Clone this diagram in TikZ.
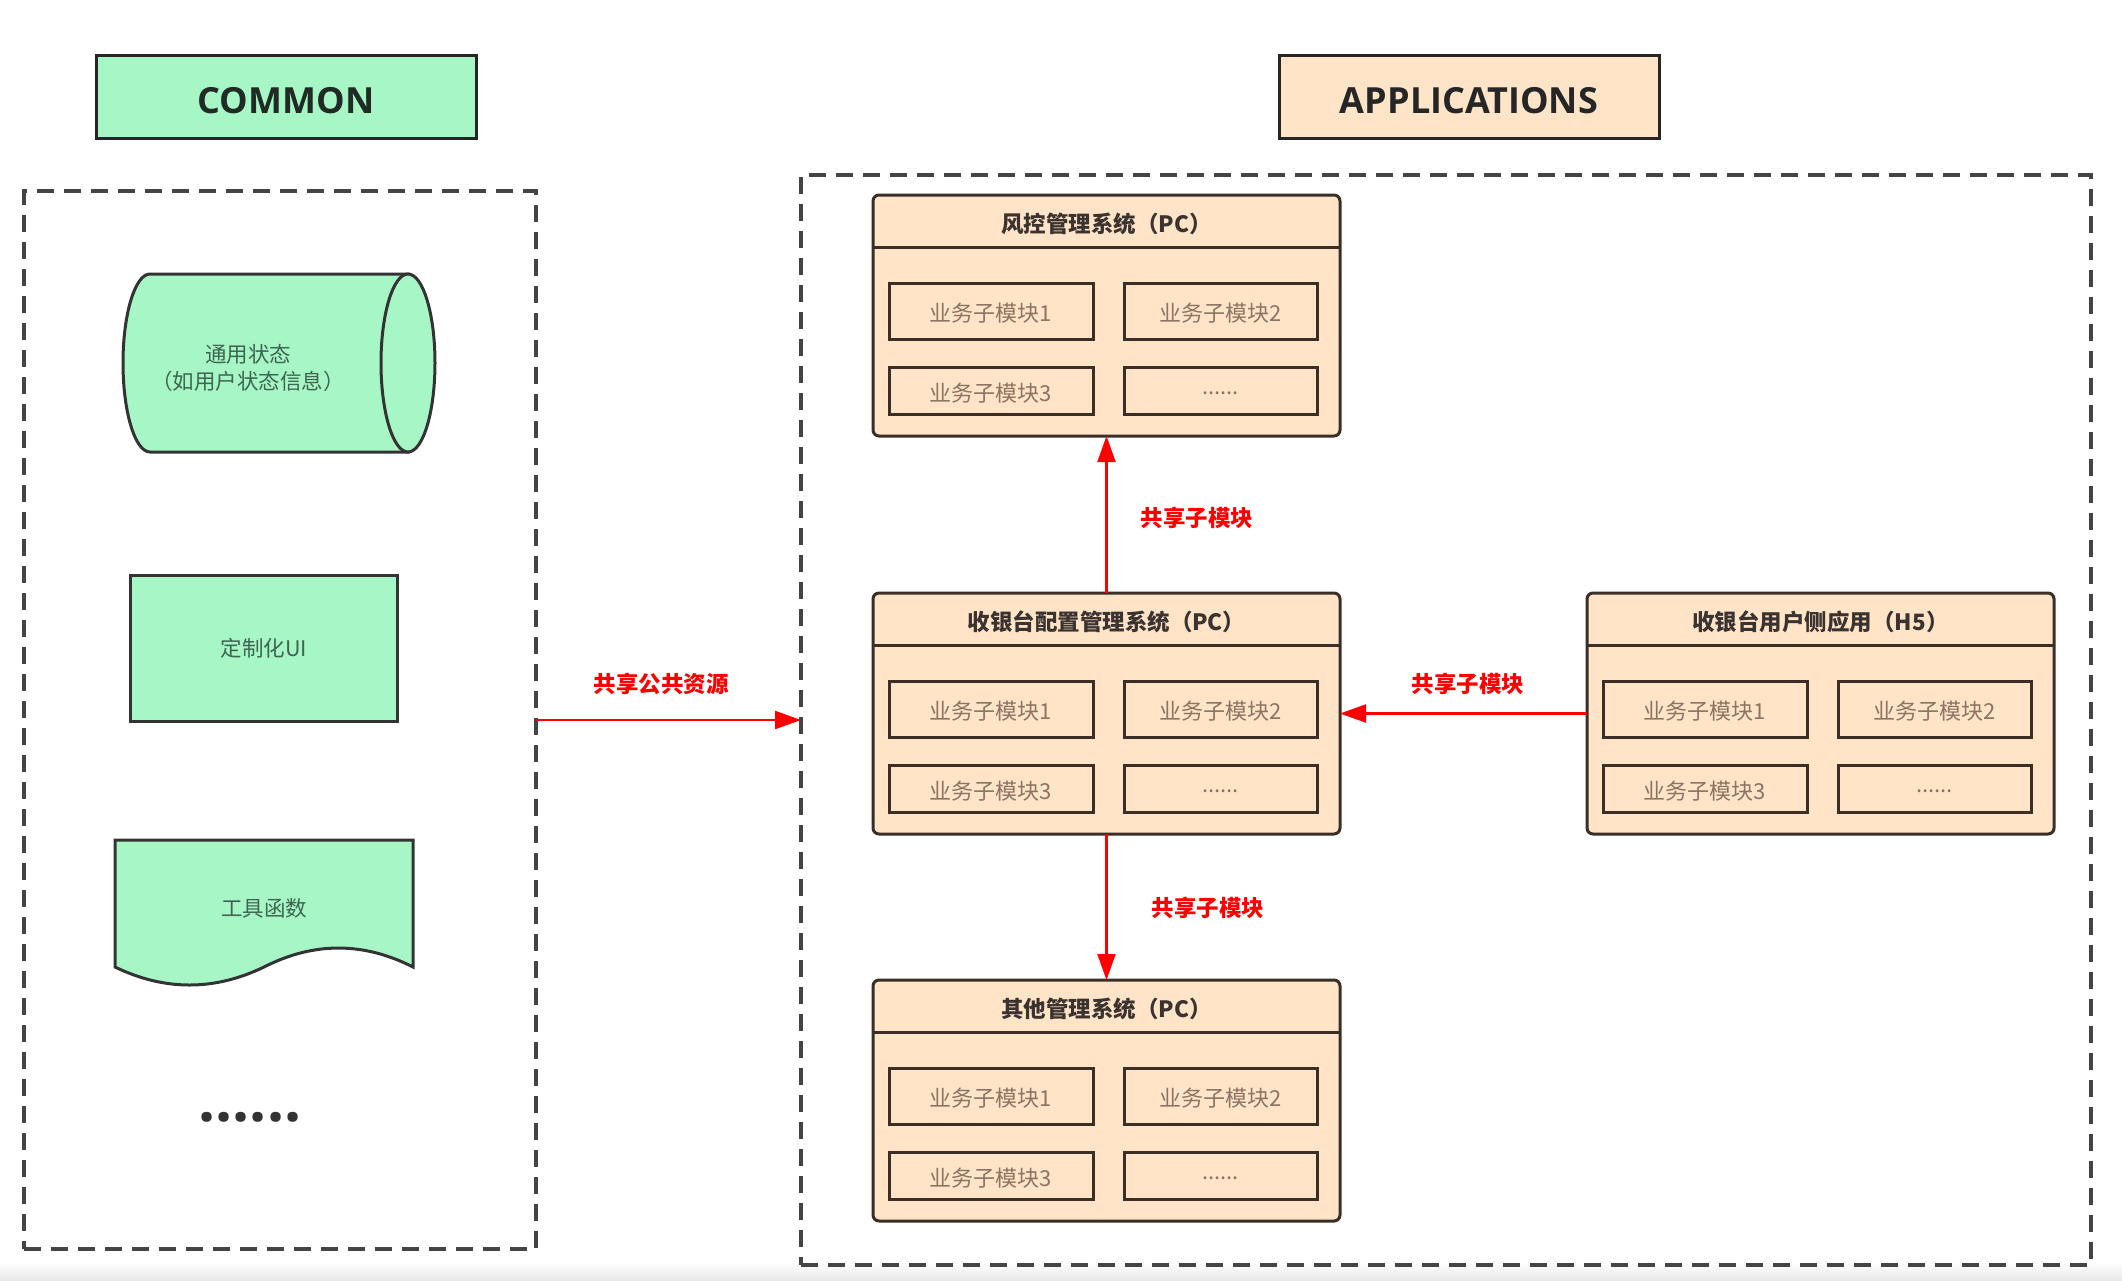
\documentclass[tikz,border=0pt]{standalone}
\usepackage{fontspec}
\newfontfamily\cjk{Noto Sans CJK SC}
\newfontfamily\osans{Open Sans}
\usetikzlibrary{arrows.meta,calc}
\definecolor{mint}{HTML}{A7F6C6}
\definecolor{peach}{HTML}{FFE4C8}
\definecolor{framec}{HTML}{3A2E26}
\definecolor{subtext}{HTML}{8A7462}
\definecolor{ttltext}{HTML}{3B3330}
\definecolor{greentext}{HTML}{3D6650}
\definecolor{dashc}{HTML}{444444}
\definecolor{commontext}{HTML}{1F2B24}
\newcommand\lowered[2]{\raisebox{-#1}[\height][\depth]{#2}}
\tikzset{
  headbox/.style={draw=black!85, line width=3pt, minimum width=380pt, minimum height=83pt, inner sep=0pt, font=\osans\bfseries\fontsize{36}{40}\selectfont},
  dashbox/.style={draw=dashc, line width=3.5pt, dash pattern=on 17pt off 10pt, inner sep=0pt, outer sep=0pt},
  gshape/.style={draw=black!80, line width=3pt, fill=mint},
  gtext/.style={text=greentext, font=\cjk\fontsize{21.5}{27}\selectfont, align=center},
  appframe/.style={draw=framec, line width=3pt, fill=peach, rounded corners=6pt, minimum width=467pt, minimum height=241pt, inner sep=0pt, outer sep=0pt},
  hdr/.style={draw=framec, line width=3pt},
  ttl/.style={text=ttltext, font=\cjk\bfseries\fontsize{22.5}{26}\selectfont},
  subbox/.style={draw=framec, line width=3pt, fill=peach, inner sep=0pt, text=subtext, font=\cjk\fontsize{22}{26}\selectfont},
  subA/.style={subbox, minimum width=204pt, minimum height=56pt},
  subB/.style={subbox, minimum width=193pt, minimum height=56pt},
  subC/.style={subbox, minimum width=204pt, minimum height=47pt},
  subD/.style={subbox, minimum width=193pt, minimum height=47pt},
  redarrow/.style={draw=red, line width=2.2pt, -{Triangle[length=26pt,width=18pt]}},
  redlabel/.style={text=red, font=\cjk\bfseries\fontsize{22.5}{26}\selectfont},
}
\newcommand\appbox[4]{%
  \node[appframe, anchor=north west] (#1) at (#2,#3) {};
  \draw[hdr] ([yshift=-52pt]#1.north west) -- ([yshift=-52pt]#1.north east);
  \node[ttl] (#1-t) at ([yshift=-29pt]#1.north) {#4};
  \node[subA] (#1-a) at ([xshift=118pt,yshift=-116pt]#1.north west) {\lowered{2.5pt}{业务子模块1}};
  \node[subB] (#1-b) at ([xshift=347.5pt,yshift=-116pt]#1.north west) {\lowered{2.5pt}{业务子模块2}};
  \node[subC] (#1-c) at ([xshift=118pt,yshift=-195.5pt]#1.north west) {\lowered{2.5pt}{业务子模块3}};
  \node[subD] (#1-d) at ([xshift=347.5pt,yshift=-195.5pt]#1.north west) {\lowered{2.5pt}{......}};
}
\begin{document}
\begin{tikzpicture}[x=1pt,y=-1pt]
\useasboundingbox (0,0) rectangle (2122,1280);
\fill[white] (0,0) rectangle (2122,1280);
\shade[top color=white, bottom color=black!9] (0,1262) rectangle (2122,1280);

% headers
\node[headbox, fill=mint, text=commontext] (common) at (286,96.5) {\lowered{4pt}{COMMON}};
\node[headbox, fill=peach, text=black!85] (apps) at (1469,97) {\lowered{4pt}{APPLICATIONS}};

% dashed containers
\node[dashbox, minimum width=512pt, minimum height=1058pt] (left) at (280,720) {};
\node[dashbox, minimum width=1290pt, minimum height=1090pt] (right) at (1446,720) {};

% cylinder
\path[gshape] (150,274) -- (408,274) -- (408,452) -- (150,452)
   arc[start angle=90, end angle=270, x radius=27, y radius=89] -- cycle;
\draw[gshape] (408,363) ellipse [x radius=27, y radius=89];
\node[gtext] (state) at (248,368) {通用状态\\（如用户状态信息）};

% custom UI
\node[gshape, minimum width=267pt, minimum height=146pt, inner sep=0pt, gtext] (ui) at (264,648) {定制化UI};

% document shape
\path[gshape] (115,840) -- (413,840) -- (413,967)
  .. controls (363.3,941.7) and (313.7,941.7) .. (264,967)
  .. controls (214.3,991) and (164.7,991) .. (115,967) -- cycle;
\node[gtext] (tools) at (264,908) {工具函数};

% dots
\node[anchor=base, inner sep=0pt, text=black!80, font=\osans\bfseries\fontsize{60}{60}\selectfont] (dots) at (250,1121) {......};

% application frames
\appbox{risk}{873}{195}{风控管理系统（PC）}
\appbox{cfg}{873}{593}{收银台配置管理系统（PC）}
\appbox{other}{873}{980}{其他管理系统（PC）}
\appbox{h5}{1587}{593}{收银台用户侧应用（H5）}

% connectors
\draw[redarrow] (left.east) -- (right.west);
\node[redlabel] (l1) at (661,684) {共享公共资源};
\draw[redarrow] (cfg.north) -- (risk.south);
\node[redlabel] (l2) at (1197,518) {共享子模块};
\draw[redarrow] (cfg.south) -- (other.north);
\node[redlabel] (l3) at (1208,908) {共享子模块};
\draw[redarrow] (h5.west) -- (cfg.east);
\node[redlabel] (l4) at (1468,684) {共享子模块};
\end{tikzpicture}
\end{document}
